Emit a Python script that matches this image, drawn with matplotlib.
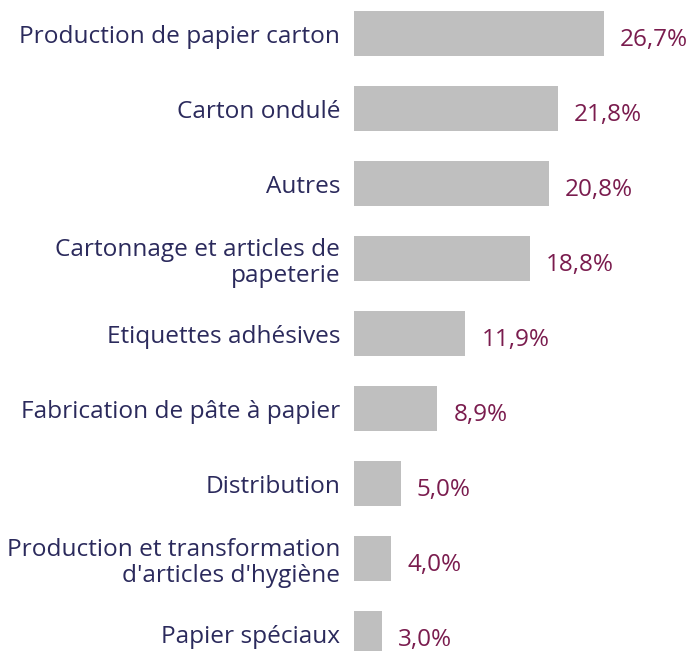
import matplotlib.pyplot as plt
import numpy as np

categories = ["Production de papier carton", "Carton ondulé", "Autres",
              "Cartonnage et articles de\npapeterie", "Etiquettes adhésives",
              "Fabrication de pâte à papier", "Distribution",
              "Production et transformation\nd'articles d'hygiène", "Papier spéciaux"]
values = [26.7, 21.8, 20.8, 18.8, 11.9, 8.9, 5.0, 4.0, 3.0]
value_labels = ["26,7%", "21,8%", "20,8%", "18,8%", "11,9%", "8,9%", "5,0%", "4,0%", "3,0%"]

label_color = "#2b2a5c"
value_color = "#7a1c4e"
bar_color = "#bfbfbf"

plt.rcParams['font.family'] = ['Open Sans', 'DejaVu Sans']

fig = plt.figure(figsize=(6.9, 6.51), dpi=100)
ax = fig.add_axes([354 / 690, 0, 336 / 690, 1])

y = np.arange(len(categories))
ax.barh(y, values, height=0.6, color=bar_color)

ax.set_xlim(0, 336 / 9.363)
ax.set_ylim(8.227, -0.453)

ax.set_yticks(y)
ax.set_yticklabels(categories, fontsize=17.6, color=label_color, ha='right', linespacing=1.12)
ax.tick_params(axis='y', length=0, pad=10)
ax.set_xticks([])
for s in ax.spines.values():
    s.set_visible(False)

for yi, v, lab in zip(y, values, value_labels):
    ax.annotate(lab, (v, yi), xytext=(16, -6), textcoords='offset pixels',
                ha='left', va='center', fontsize=17.5, color=value_color)

fig.savefig("out.png", dpi=100)
